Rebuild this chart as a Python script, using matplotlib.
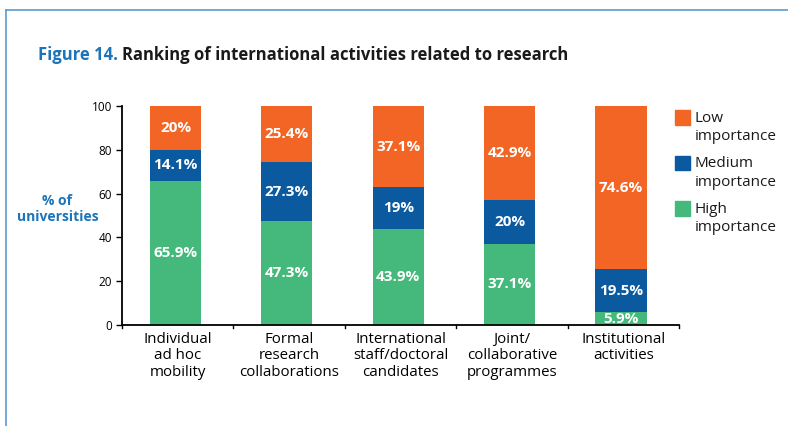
import matplotlib
matplotlib.use("Agg")
import matplotlib.pyplot as plt
from matplotlib.lines import Line2D
import numpy as np

plt.rcParams['font.family'] = ['Open Sans', 'DejaVu Sans']

categories = ["Individual\nad hoc\nmobility", "Formal\nresearch\ncollaborations",
              "International\nstaff/doctoral\ncandidates", "Joint/\ncollaborative\nprogrammes",
              "Institutional\nactivities"]
high = [65.9, 47.3, 43.9, 37.1, 5.9]
medium = [14.1, 27.3, 19, 20, 19.5]
low = [20, 25.4, 37.1, 42.9, 74.6]
high_labels = ["65.9%", "47.3%", "43.9%", "37.1%", "5.9%"]
medium_labels = ["14.1%", "27.3%", "19%", "20%", "19.5%"]
low_labels = ["20%", "25.4%", "37.1%", "42.9%", "74.6%"]
yticks = [0, 20, 40, 60, 80, 100]

c_low = "#f26524"
c_med = "#0b5aa0"
c_high = "#45b97c"
c_title = "#1b75bb"
c_frame = "#5b9bd1"

fig = plt.figure(figsize=(7.88, 4.26), dpi=100)
W, H = 788, 426
ax = fig.add_axes([122 / W, 1 - 325 / H, (679 - 122) / W, (325 - 106) / H])

x = np.arange(len(categories))
bw = 0.46
offset = -0.02
b1 = ax.bar(x + offset, high, bw, color=c_high)
b2 = ax.bar(x + offset, medium, bw, bottom=high, color=c_med)
b3 = ax.bar(x + offset, low, bw, bottom=np.array(high) + np.array(medium), color=c_low)

for bars, labels in ((b1, high_labels), (b2, medium_labels), (b3, low_labels)):
    for r, lab in zip(bars, labels):
        cy = r.get_y() + r.get_height() / 2
        ax.text(r.get_x() + r.get_width() / 2, cy, lab, ha="center", va="center",
                color="white", fontsize=11, fontweight="bold")

ax.set_xlim(-0.5, len(categories) - 0.5)
ax.set_ylim(0, 100)
ax.set_yticks(yticks)
ax.set_yticklabels([str(v) for v in yticks], fontsize=8.5)
ax.set_xticks(x)
ax.set_xticklabels(categories, fontsize=10.8, linespacing=1.12)
ax.tick_params(axis="x", length=0, pad=5)
ax.tick_params(axis="y", direction="out", length=4, width=1, pad=3)
for xb in np.arange(-0.5, len(categories), 1.0):
    ax.plot([xb, xb], [0, -1.5], color="black", lw=1, clip_on=False)
for s in ("top", "right"):
    ax.spines[s].set_visible(False)
ax.spines["left"].set_linewidth(1.3)
ax.spines["bottom"].set_linewidth(1.3)

ax.text(-0.116, 0.53, "% of\nuniversities", transform=ax.transAxes, ha="center", va="center",
        color=c_title, fontsize=10, fontweight="bold", linespacing=1.15)

# title
fig.text(38 / W, 1 - 55 / H, "Figure 14.", color=c_title, fontsize=12, fontweight="bold",
         ha="left", va="center")
fig.text(122 / W, 1 - 55 / H, "Ranking of international activities related to research",
         color="#1a1a1a", fontsize=12, fontweight="bold", ha="left", va="center")

# legend
leg_labels = ["Low\nimportance", "Medium\nimportance", "High\nimportance"]
for i, (col, lab) in enumerate(zip([c_low, c_med, c_high], leg_labels)):
    ytop = 110 + i * 45.5
    fig.patches.append(plt.Rectangle((675 / W, 1 - (ytop + 15) / H), 15 / W, 15 / H,
                                     transform=fig.transFigure, color=col))
    fig.text(695 / W, 1 - (ytop + 1) / H, lab, fontsize=11, color="#1a1a1a",
             ha="left", va="top", linespacing=1.3)

# frame lines
fig.add_artist(Line2D([6 / W, 6 / W], [0, 1 - 10 / H], transform=fig.transFigure,
                      color=c_frame, lw=1.2))
fig.add_artist(Line2D([6 / W, 1], [1 - 10 / H, 1 - 10 / H], transform=fig.transFigure,
                      color=c_frame, lw=1.2))

fig.savefig("out.png", dpi=100)
